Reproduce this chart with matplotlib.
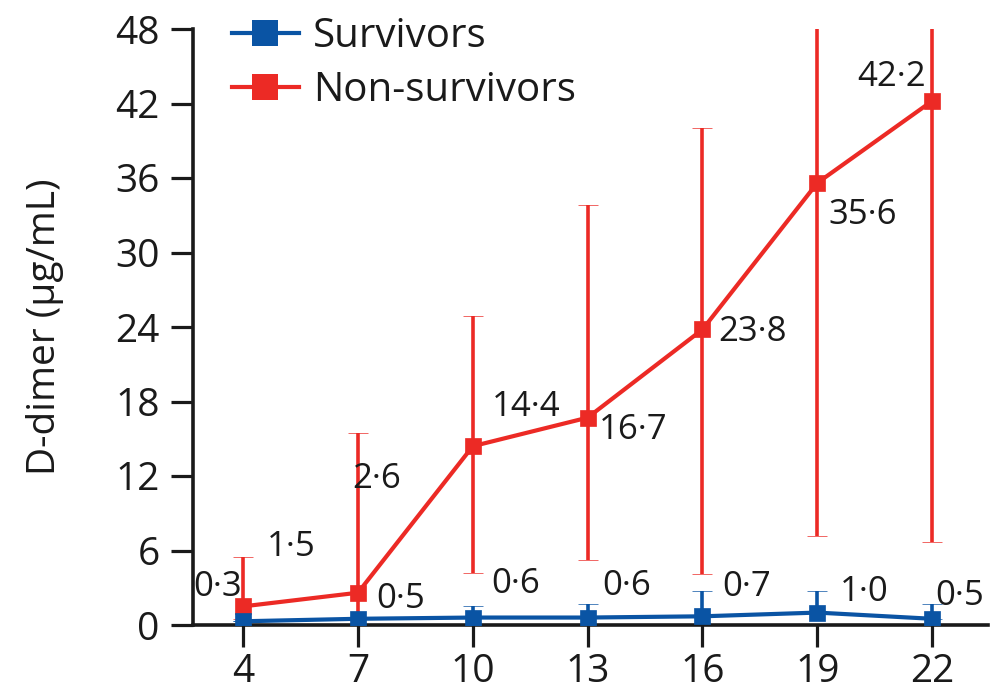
import matplotlib
matplotlib.use("Agg")
import matplotlib.pyplot as plt
from matplotlib.lines import Line2D

# Days after illness onset
days = [4, 7, 10, 13, 16, 19, 22]

# D-dimer means (µg/mL)
survivors = [0.3, 0.5, 0.6, 0.6, 0.7, 1.0, 0.5]
non_survivors = [1.5, 2.6, 14.4, 16.7, 23.8, 35.6, 42.2]

# Error-bar bounds (µg/mL)
survivors_low = [0.3, 0.5, 0.6, 0.6, 0.7, 1.0, 0.5]
survivors_high = [0.3, 0.5, 1.5, 1.7, 2.7, 2.7, 1.7]
non_survivors_low = [0.5, 0.5, 4.2, 5.2, 4.1, 7.2, 6.7]
non_survivors_high = [5.5, 15.5, 24.9, 33.8, 40.0, 56.0, 58.0]

y_ticks = [0, 6, 12, 18, 24, 30, 36, 42, 48]

# Label offsets in pixels relative to each point
surv_offsets = [(-26, 34), (43, 20), (43, 34), (39, 32), (44, 29), (47, 21), (28, 23)]
non_offsets = [(48, 59), (19, 114), (53, 39), (46, -12), (50, -3), (45, -32), (-41, 24)]

RED = "#EC2A25"
BLUE = "#0A54A4"
INK = "#1a1a1a"

plt.rcParams["font.family"] = ["Open Sans", "DejaVu Sans"]

fig = plt.figure(figsize=(9.94, 6.92), dpi=100)
ax = fig.add_axes([193 / 994, 1 - 625 / 692, (988 - 193) / 994, (625 - 29) / 692])


def err(vals, lo, hi):
    return [[v - l for v, l in zip(vals, lo)], [h - v for v, h in zip(vals, hi)]]


for vals, lo, hi, col, z in ((non_survivors, non_survivors_low, non_survivors_high, RED, 3),
                             (survivors, survivors_low, survivors_high, BLUE, 4)):
    ax.errorbar(days, vals, yerr=err(vals, lo, hi), color=col, lw=3, marker="s", ms=11,
                mec=col, mew=0.5, ecolor=col, elinewidth=2.6, capsize=7, capthick=3.2,
                zorder=z)


def fmt(v):
    return f"{v:.1f}".replace(".", "\u00b7")


for x, v, off in zip(days, non_survivors, non_offsets):
    ax.annotate(fmt(v), (x, v), xytext=off, textcoords="offset pixels",
                ha="center", va="center", fontsize=25, color=INK, zorder=5)
for x, v, off in zip(days, survivors, surv_offsets):
    ax.annotate(fmt(v), (x, v), xytext=off, textcoords="offset pixels",
                ha="center", va="center", fontsize=25, color=INK, zorder=5)

ax.set_xlim(2.69, 23.46)
ax.set_ylim(0, 48)
ax.set_xticks(days)
ax.set_yticks(y_ticks)
ax.tick_params(axis="both", length=16, width=2.3, labelsize=28, color=INK, labelcolor=INK)
ax.tick_params(axis="y", pad=8)
ax.tick_params(axis="x", pad=4)
for side in ("top", "right"):
    ax.spines[side].set_visible(False)
for side in ("left", "bottom"):
    ax.spines[side].set_linewidth(2.6)
    ax.spines[side].set_color(INK)

ax.set_ylabel("D-dimer (µg/mL)", fontsize=28, color=INK, labelpad=37)

handles = [
    Line2D([], [], color=BLUE, lw=3, marker="s", ms=19, mew=0),
    Line2D([], [], color=RED, lw=3, marker="s", ms=19, mew=0),
]
ax.legend(handles, ["Survivors", "Non-survivors"], loc="upper left",
          bbox_to_anchor=(0.024, 1.055), frameon=False, fontsize=29,
          handlelength=1.65, handletextpad=0.35, labelspacing=0.35, borderpad=0,
          labelcolor=INK)

fig.savefig("out.png", dpi=100)
